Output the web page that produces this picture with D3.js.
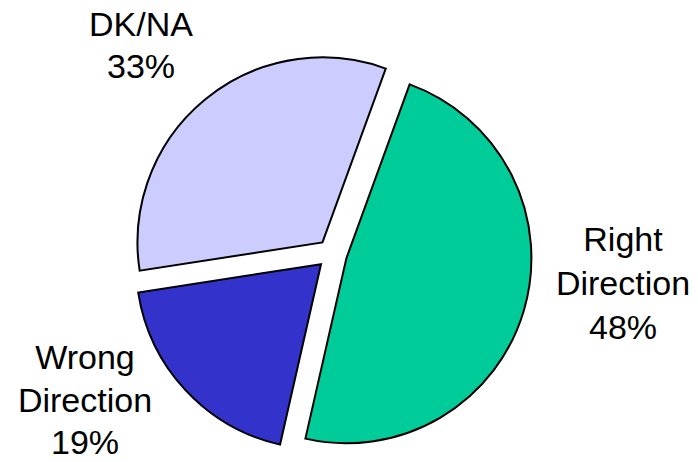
<!DOCTYPE html>
<html>
<head>
<meta charset="utf-8">
<script src="https://cdn.jsdelivr.net/npm/d3@7"></script>
<style>
  html, body { margin: 0; padding: 0; background: #ffffff; }
  svg { display: block; }
</style>
</head>
<body>
<svg id="chart" width="698" height="462"></svg>
<script>
// ---- data ----
const categories = ["Right Direction", "Wrong Direction", "DK/NA"];
const labelLines = [["Right", "Direction"], ["Wrong", "Direction"], ["DK/NA"]];
const values = [48, 19, 33];
const colors = ["#00CC99", "#3333CC", "#CCCCFF"];

// ---- layout ----
const W = 698, H = 462;
const cx = 332, cy = 254, radius = 185, explode = 15;
const startDeg = 20;
// label anchor (center x, first baseline y) for each slice
const labelAnchor = [[623, 251], [85, 369], [141, 36]];
const lineGap = [44, 42.5, 42];

const svg = d3.select("#chart");
const g = svg.append("g").attr("transform", `translate(${cx},${cy})`);

const data = categories.map((c, i) => ({ name: c, value: values[i], color: colors[i], lines: labelLines[i] }));

const pie = d3.pie()
  .sort(null)
  .value(d => d.value)
  .startAngle(startDeg * Math.PI / 180)
  .endAngle(startDeg * Math.PI / 180 + 2 * Math.PI);

const arc = d3.arc().innerRadius(0).outerRadius(radius);

const arcs = pie(data);

g.selectAll("path.slice")
  .data(arcs)
  .join("path")
  .attr("class", "slice")
  .attr("d", arc)
  .attr("transform", d => {
    const mid = (d.startAngle + d.endAngle) / 2;
    return `translate(${explode * Math.sin(mid)},${-explode * Math.cos(mid)})`;
  })
  .attr("fill", d => d.data.color)
  .attr("stroke", "#000")
  .attr("stroke-width", 2)
  .attr("stroke-linejoin", "miter");

const labels = svg.selectAll("text.lbl")
  .data(arcs)
  .join("text")
  .attr("class", "lbl")
  .attr("text-anchor", "middle")
  .attr("font-family", "'Liberation Sans', Arial, sans-serif")
  .attr("font-size", 34)
  .attr("fill", "#000");

labels.each(function(d, i) {
  const t = d3.select(this);
  const [x, y] = labelAnchor[i];
  const lines = d.data.lines.concat([d3.format(".0f")(d.data.value) + "%"]);
  lines.forEach((ln, k) => {
    t.append("tspan").attr("x", x).attr("y", y + k * lineGap[i]).text(ln);
  });
});
</script>
</body>
</html>
